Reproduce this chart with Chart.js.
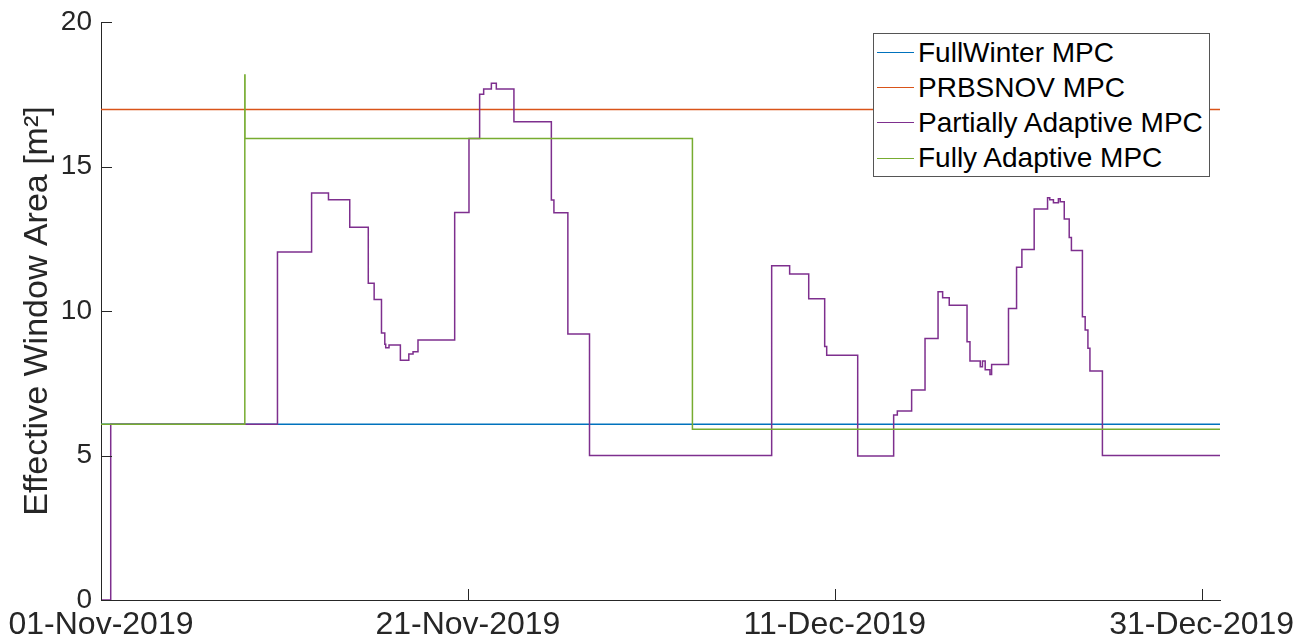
<!DOCTYPE html>
<html>
<head>
<meta charset="utf-8">
<script src="https://cdn.jsdelivr.net/npm/chart.js@4.4.0/dist/chart.umd.min.js"></script>
<style>
    html, body { margin: 0; padding: 0; background: #fff; }
    #wrap { position: relative; width: 1302px; height: 643px; }
    #legend {
        position: absolute; left: 873px; top: 33px; width: 337px; height: 144px;
        box-sizing: border-box; border: 1px solid #555; background: #fff;
        font-family: "Liberation Sans", Arial, sans-serif; font-size: 28px; color: #000;
        padding-top: 1px;
    }
    .row { display: flex; align-items: center; height: 35.2px; white-space: nowrap; }
    .swatch { width: 37px; height: 0; border-top: 1.5px solid; margin-left: 3px; margin-right: 4px; }
</style>
</head>
<body>
<div id="wrap">
    <canvas id="area" width="1302" height="643"></canvas>
    <div id="legend"></div>
</div>
<script>
// time in days since 01-Nov-2019
const startDate = new Date(2019, 10, 1);
const xTicks = [0, 20, 40, 60];
const yTicks = [0, 5, 10, 15, 20];
const months = ['Jan', 'Feb', 'Mar', 'Apr', 'May', 'Jun', 'Jul', 'Aug', 'Sep', 'Oct', 'Nov', 'Dec'];

const fullWinterTime = [0, 61];
const fullWinterValue = [6.08, 6.08];

const prbsTime = [0, 61];
const prbsValue = [16.97, 16.97];

const partialTime = [0, 0.53, 9.62, 11.48, 12.40, 13.56, 14.57, 14.89, 15.29, 15.47, 15.52, 15.70,
    16.32, 16.78, 17.01, 17.28, 19.28, 20.06, 20.64, 20.86, 21.28, 21.55, 22.51, 24.55, 24.69, 25.45,
    26.63, 36.56, 37.54, 38.58, 39.45, 39.56, 41.25, 43.21, 43.41, 44.19, 44.92, 45.63, 45.88, 46.24,
    47.21, 47.37, 47.93, 48.05, 48.20, 48.46, 48.55, 49.47, 49.91, 50.20, 50.87, 51.60, 51.72, 51.92,
    52.19, 52.29, 52.51, 52.78, 52.90, 53.50, 53.65, 53.80, 53.91, 54.59, 61];
const partialValue = [0, 6.08, 12.04, 14.08, 13.85, 12.9, 10.96, 10.4, 9.24, 8.85, 8.73, 8.82,
    8.3, 8.51, 8.59, 9.0, 13.41, 15.97, 17.5, 17.68, 17.88, 17.68, 16.55, 13.84, 13.4, 9.2,
    5.0, 11.57, 11.28, 10.42, 8.77, 8.47, 4.98, 6.4, 6.54, 7.27, 9.05, 10.67, 10.46, 10.2,
    8.94, 8.27, 8.07, 8.27, 7.97, 7.8, 8.15, 10.09, 11.51, 12.13, 13.53, 13.92, 13.85, 13.75,
    13.88, 13.78, 13.18, 12.54, 12.09, 9.8, 9.34, 8.71, 7.92, 5.0, 5.0];

const fullyTime = [0, 7.84, 7.85, 32.24, 61];
const fullyValue = [6.08, 18.17, 15.97, 5.91, 5.91];

const seriesNames = ['FullWinter MPC', 'PRBSNOV MPC', 'Partially Adaptive MPC', 'Fully Adaptive MPC'];
const seriesColors = ['#0072BD', '#D95319', '#7E2F8E', '#77AC30'];

function points(t, v) {
    return t.map((x, i) => ({ x: x, y: v[i] }));
}

function fmtDate(d) {
    const dt = new Date(startDate.getTime());
    dt.setDate(dt.getDate() + d);
    const dd = String(dt.getDate()).padStart(2, '0');
    return dd + '-' + months[dt.getMonth()] + '-' + dt.getFullYear();
}

// small inward ticks like matlab
const innerTicks = {
    id: 'innerTicks',
    afterDraw(chart) {
        const ctx = chart.ctx;
        const xs = chart.scales.x, ys = chart.scales.y;
        const a = chart.chartArea;
        ctx.save();
        ctx.strokeStyle = '#262626';
        ctx.lineWidth = 1;
        ctx.beginPath();
        xTicks.forEach(v => {
            const px = Math.round(xs.getPixelForValue(v)) + 0.5;
            ctx.moveTo(px, a.bottom);
            ctx.lineTo(px, a.bottom - 11);
        });
        yTicks.forEach(v => {
            const py = Math.round(ys.getPixelForValue(v)) + 0.5;
            ctx.moveTo(a.left, py);
            ctx.lineTo(a.left + 11, py);
        });
        ctx.stroke();
        ctx.restore();
    }
};

Chart.defaults.font.family = '"Liberation Sans", Arial, sans-serif';
Chart.defaults.color = '#262626';

const allSeries = [
    points(fullWinterTime, fullWinterValue),
    points(prbsTime, prbsValue),
    points(partialTime, partialValue),
    points(fullyTime, fullyValue)
];

new Chart(document.getElementById('area'), {
    type: 'line',
    data: {
        datasets: allSeries.map((d, i) => ({
            label: seriesNames[i],
            data: d,
            borderColor: seriesColors[i],
            borderWidth: 1.5,
            pointRadius: 0,
            stepped: 'before',
            fill: false,
            order: 3 - i
        }))
    },
    options: {
        responsive: false,
        animation: false,
        layout: { padding: { left: 0, top: 22, right: 82, bottom: 0 } },
        plugins: { legend: { display: false }, tooltip: { enabled: false } },
        scales: {
            x: {
                type: 'linear',
                min: 0,
                max: 61,
                afterBuildTicks: s => { s.ticks = xTicks.map(v => ({ value: v })); },
                afterFit: s => { s.height = 43; s.paddingLeft = 0; s.paddingRight = 0; },
                grid: { display: false, drawTicks: false },
                border: { display: true, color: '#262626', width: 1 },
                ticks: {
                    autoSkip: false, maxRotation: 0, padding: 6,
                    color: '#262626',
                    font: { size: 32 },
                    callback: v => fmtDate(v)
                }
            },
            y: {
                min: 0,
                max: 20,
                afterBuildTicks: s => { s.ticks = yTicks.map(v => ({ value: v })); },
                afterFit: s => { s.width = 101; s.paddingTop = 0; s.paddingBottom = 0; },
                grid: { display: false, drawTicks: false },
                border: { display: true, color: '#262626', width: 1 },
                ticks: { padding: 9, color: '#262626', font: { size: 28 } },
                title: {
                    display: true,
                    text: 'Effective Window Area [m²]',
                    color: '#262626',
                    font: { size: 34 },
                    padding: { top: 17, bottom: 0 }
                }
            }
        }
    },
    plugins: [innerTicks]
});

// legend box in the upper right, as in the figure
const legend = document.getElementById('legend');
seriesNames.forEach((name, i) => {
    const row = document.createElement('div');
    row.className = 'row';
    const sw = document.createElement('span');
    sw.className = 'swatch';
    sw.style.borderColor = seriesColors[i];
    const txt = document.createElement('span');
    txt.textContent = name;
    row.appendChild(sw);
    row.appendChild(txt);
    legend.appendChild(row);
});
</script>
</body>
</html>
